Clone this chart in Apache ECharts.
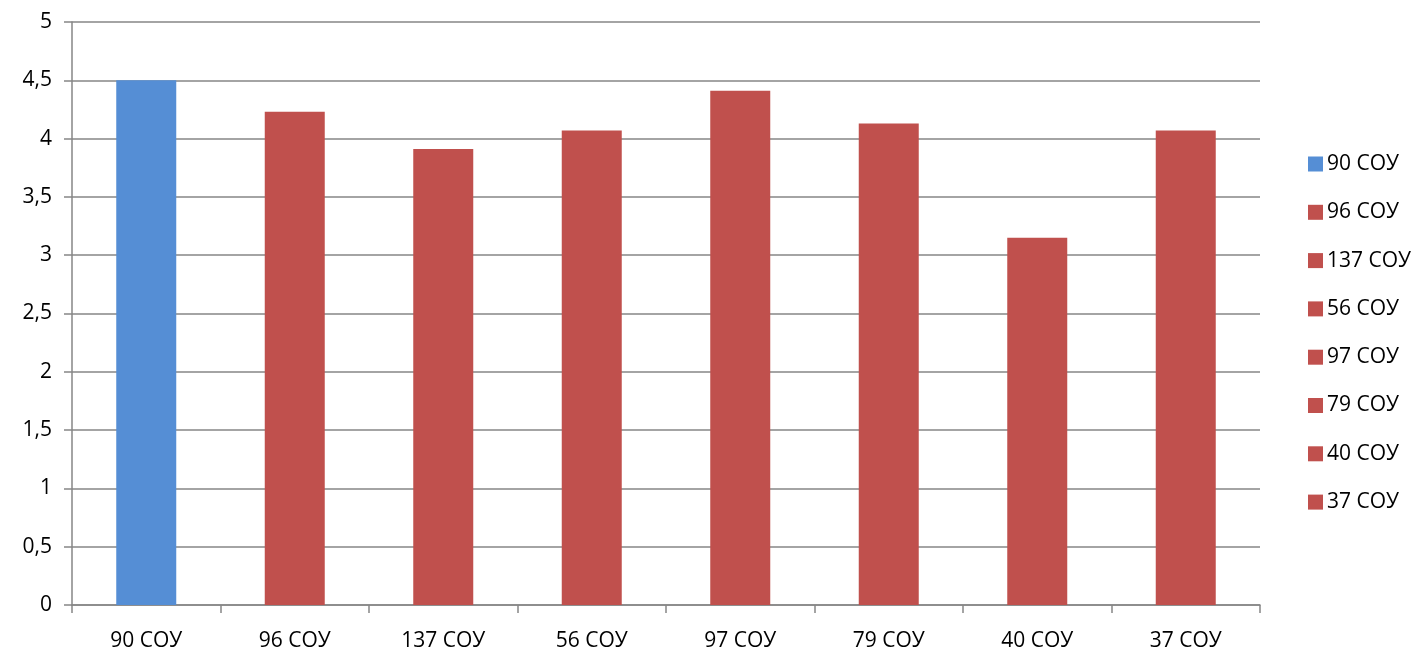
<!DOCTYPE html>
<html>
<head>
<meta charset="utf-8">
<script src="https://cdn.jsdelivr.net/npm/echarts@6/dist/echarts.min.js"></script>
<style>html,body{margin:0;padding:0;background:#fff}#c{width:1421px;height:653px}</style>
</head>
<body>
<div id="c"></div>
<script>
var categories = ['90 СОУ', '96 СОУ', '137 СОУ', '56 СОУ', '97 СОУ', '79 СОУ', '40 СОУ', '37 СОУ'];
var values = [4.5, 4.23, 3.91, 4.07, 4.41, 4.13, 3.15, 4.07];
var colors = ['#558ED5', '#C0504D', '#C0504D', '#C0504D', '#C0504D', '#C0504D', '#C0504D', '#C0504D'];
var yTicks = [0, 0.5, 1, 1.5, 2, 2.5, 3, 3.5, 4, 4.5, 5];

var FONT = '"Open Sans", "Noto Sans", sans-serif';
var series = categories.map(function (name, i) {
  return {
    name: name,
    type: 'bar',
    stack: 'all',
    barWidth: 60,
    itemStyle: { color: colors[i] },
    data: categories.map(function (c, j) { return j === i ? values[i] : '-'; })
  };
});

var chart = echarts.init(document.getElementById('c'));
chart.setOption({
  animation: false,
  grid: { left: 72, right: 161, top: 22, bottom: 48 },
  legend: {
    orient: 'vertical',
    left: 1303,
    top: 148,
    itemWidth: 15,
    itemHeight: 15,
    itemGap: 26.3,
    icon: 'rect',
    data: categories,
    textStyle: { fontFamily: FONT, fontSize: 21, color: '#000', lineHeight: 22, padding: [0, 0, 0, -1] }
  },
  xAxis: {
    type: 'category',
    data: categories,
    axisLine: { lineStyle: { color: '#868686', width: 1.5 } },
    axisTick: { show: true, length: 8, alignWithLabel: false, lineStyle: { color: '#868686', width: 1.5 } },
    axisLabel: { fontFamily: FONT, fontSize: 21, color: '#000', margin: 26 }
  },
  yAxis: {
    type: 'value',
    min: 0, max: 5, interval: 0.5,
    axisLine: { show: true, lineStyle: { color: '#868686', width: 1.5 } },
    axisTick: { show: true, length: 8, lineStyle: { color: '#868686', width: 1.5 } },
    splitLine: { lineStyle: { color: '#868686', width: 1.5 } },
    axisLabel: {
      fontFamily: FONT, fontSize: 21, color: '#000', margin: 20,
      formatter: function (v) { return String(v).replace('.', ','); }
    }
  },
  series: series
});
</script>
</body>
</html>
